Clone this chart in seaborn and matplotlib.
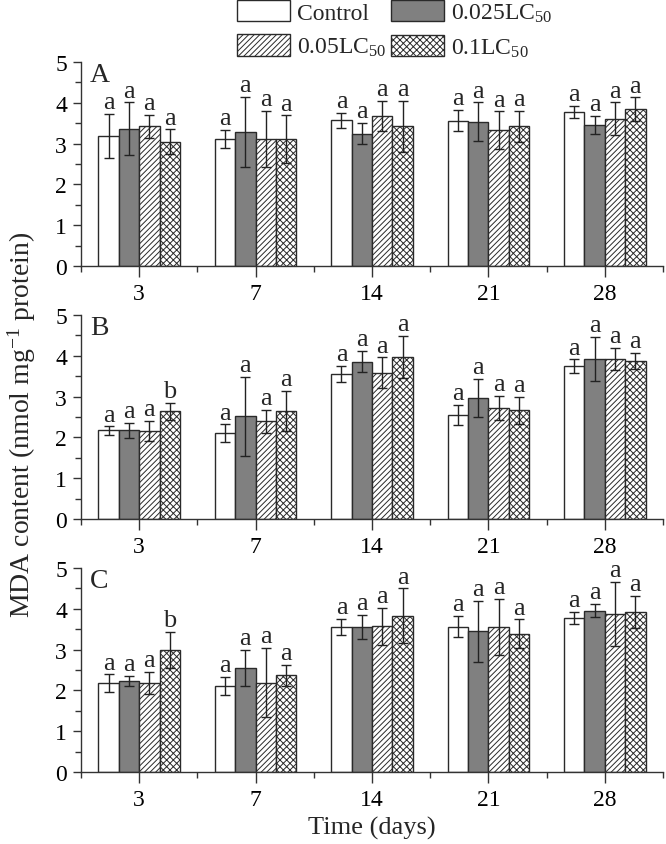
import numpy as np
import pandas as pd
import matplotlib
matplotlib.use("Agg")
import matplotlib.pyplot as plt
from matplotlib.patches import Patch
from matplotlib.ticker import MultipleLocator, FixedLocator
import seaborn as sns

# ---------------- data ----------------
days = ["3", "7", "14", "21", "28"]
groups = ["Control", "0.025LC$_{50}$", "0.05LC$_{50}$", "0.1LC$_{50}$"]

# panel A
a_mean = {
    "Control": [3.19, 3.12, 3.57, 3.56, 3.77],
    "0.025LC$_{50}$": [3.37, 3.29, 3.24, 3.54, 3.45],
    "0.05LC$_{50}$": [3.42, 3.11, 3.68, 3.33, 3.61],
    "0.1LC$_{50}$": [3.05, 3.11, 3.42, 3.43, 3.84],
}
a_err = {
    "Control": [0.54, 0.22, 0.19, 0.26, 0.15],
    "0.025LC$_{50}$": [0.64, 0.86, 0.26, 0.47, 0.22],
    "0.05LC$_{50}$": [0.28, 0.69, 0.37, 0.46, 0.40],
    "0.1LC$_{50}$": [0.30, 0.58, 0.63, 0.38, 0.29],
}
a_sig = {g: ["a"] * 5 for g in groups}

# panel B
b_mean = {
    "Control": [2.17, 2.10, 3.56, 2.55, 3.75],
    "0.025LC$_{50}$": [2.17, 2.52, 3.86, 2.97, 3.93],
    "0.05LC$_{50}$": [2.15, 2.39, 3.59, 2.72, 3.93],
    "0.1LC$_{50}$": [2.64, 2.64, 3.97, 2.66, 3.88],
}
b_err = {
    "Control": [0.10, 0.22, 0.19, 0.25, 0.16],
    "0.025LC$_{50}$": [0.18, 0.97, 0.26, 0.46, 0.54],
    "0.05LC$_{50}$": [0.25, 0.29, 0.37, 0.30, 0.27],
    "0.1LC$_{50}$": [0.21, 0.49, 0.52, 0.33, 0.20],
}
b_sig = {g: ["a"] * 5 for g in groups}
b_sig["0.1LC$_{50}$"] = ["b", "a", "a", "a", "a"]

# panel C
c_mean = {
    "Control": [2.18, 2.11, 3.56, 3.56, 3.77],
    "0.025LC$_{50}$": [2.23, 2.56, 3.56, 3.45, 3.95],
    "0.05LC$_{50}$": [2.19, 2.19, 3.57, 3.55, 3.87],
    "0.1LC$_{50}$": [2.99, 2.37, 3.83, 3.39, 3.92],
}
c_err = {
    "Control": [0.21, 0.23, 0.19, 0.26, 0.15],
    "0.025LC$_{50}$": [0.13, 0.44, 0.29, 0.75, 0.16],
    "0.05LC$_{50}$": [0.27, 0.85, 0.45, 0.69, 0.78],
    "0.1LC$_{50}$": [0.44, 0.25, 0.67, 0.35, 0.39],
}
c_sig = {g: ["a"] * 5 for g in groups}
c_sig["0.1LC$_{50}$"] = ["b", "a", "a", "a", "a"]

panels = [("A", a_mean, a_err, a_sig),
          ("B", b_mean, b_err, b_sig),
          ("C", c_mean, c_err, c_sig)]

faces = ["white", "#808080", "white", "white"]
hatches = [None, None, "//////", "xxxxx"]
edge = "#2a2a2a"

# ---------------- style ----------------
sns.set_style("ticks")
plt.rcParams["font.family"] = ["Liberation Serif", "DejaVu Serif"]
plt.rcParams["mathtext.fontset"] = "custom"
plt.rcParams["mathtext.rm"] = "Liberation Serif"
plt.rcParams["mathtext.it"] = "Liberation Serif:italic"
plt.rcParams["hatch.linewidth"] = 0.7
plt.rcParams["hatch.color"] = edge
plt.rcParams["axes.edgecolor"] = "#333333"
plt.rcParams["xtick.color"] = "#333333"
plt.rcParams["ytick.color"] = "#333333"
plt.rcParams["xtick.labelcolor"] = "black"
plt.rcParams["ytick.labelcolor"] = "black"

W, H = 666, 845
fig = plt.figure(figsize=(W / 100, H / 100), dpi=100)

# axis boxes in pixels: (bottom, top)
boxes = [(267, 63), (520, 316), (773, 569)]
left, right = 81, 663

for (name, mean, err, sig), (pb, pt) in zip(panels, boxes):
    ax = fig.add_axes([left / W, 1 - pb / H, (right - left) / W, (pb - pt) / H])
    rows = []
    for g in groups:
        for d, m in zip(days, mean[g]):
            rows.append({"day": d, "group": g, "value": m})
    df = pd.DataFrame(rows)
    sns.barplot(data=df, x="day", y="value", hue="group", order=days,
                hue_order=groups, width=0.7, errorbar=None, ax=ax,
                linewidth=1.0, edgecolor=edge, legend=False)
    for gi, (cont, g) in enumerate(zip(ax.containers, groups)):
        xs = []
        for p in cont.patches:
            p.set_facecolor(faces[gi])
            p.set_edgecolor(edge)
            if hatches[gi]:
                p.set_hatch(hatches[gi])
            xs.append(p.get_x() + p.get_width() / 2)
        ax.errorbar(xs, mean[g], yerr=err[g], fmt="none", ecolor="#222222",
                    elinewidth=1.0, capsize=3.3, capthick=1.0, zorder=5)
        for x, m, e, s in zip(xs, mean[g], err[g], sig[g]):
            ax.text(x, m + e + 0.02, s, ha="center", va="bottom",
                    fontsize=19, clip_on=False)
    ax.set_xlim(-0.5, 4.5)
    ax.set_ylim(0, 5)
    ax.yaxis.set_major_locator(MultipleLocator(1))
    ax.yaxis.set_minor_locator(MultipleLocator(0.5))
    ax.xaxis.set_minor_locator(FixedLocator([-0.5, 0.5, 1.5, 2.5, 3.5, 4.5]))
    ax.tick_params(axis="both", which="major", labelsize=17, length=6, width=1.0)
    ax.tick_params(axis="x", which="major", length=8, pad=4)
    ax.tick_params(axis="both", which="minor", length=4, width=1.0)
    ax.tick_params(axis="y", which="major", pad=4)
    ax.set_xlabel("")
    ax.set_ylabel("")
    sns.despine(ax=ax)
    ax.spines["left"].set_linewidth(1.0)
    ax.spines["bottom"].set_linewidth(1.0)
    ax.text(0.015, 1.0, name, transform=ax.transAxes, ha="left", va="top",
            fontsize=20)

fig.text(372 / W, 1 - 828 / H, "Time (days)", ha="center", va="center",
         fontsize=19)
fig.text(22 / W, 1 - 425 / H, "MDA content (nmol mg$^{-1}$ protein)",
         ha="center", va="center", rotation=90, fontsize=20)

# legend filled row by row: Control, 0.025 / 0.05, 0.1
handles = [Patch(facecolor=faces[i], edgecolor=edge, hatch=hatches[i],
                 linewidth=1.0) for i in range(4)]
order = [0, 2, 1, 3]
fig.legend([handles[i] for i in order], [groups[i] for i in order],
           ncol=2, loc="upper left",
           bbox_to_anchor=(236 / W, 1.0), frameon=False, fontsize=17,
           handlelength=2.25, handleheight=1.0, handletextpad=0.3,
           columnspacing=0.15, labelspacing=0.45, borderpad=0.05,
           borderaxespad=0)

fig.savefig("out.png", dpi=100)
